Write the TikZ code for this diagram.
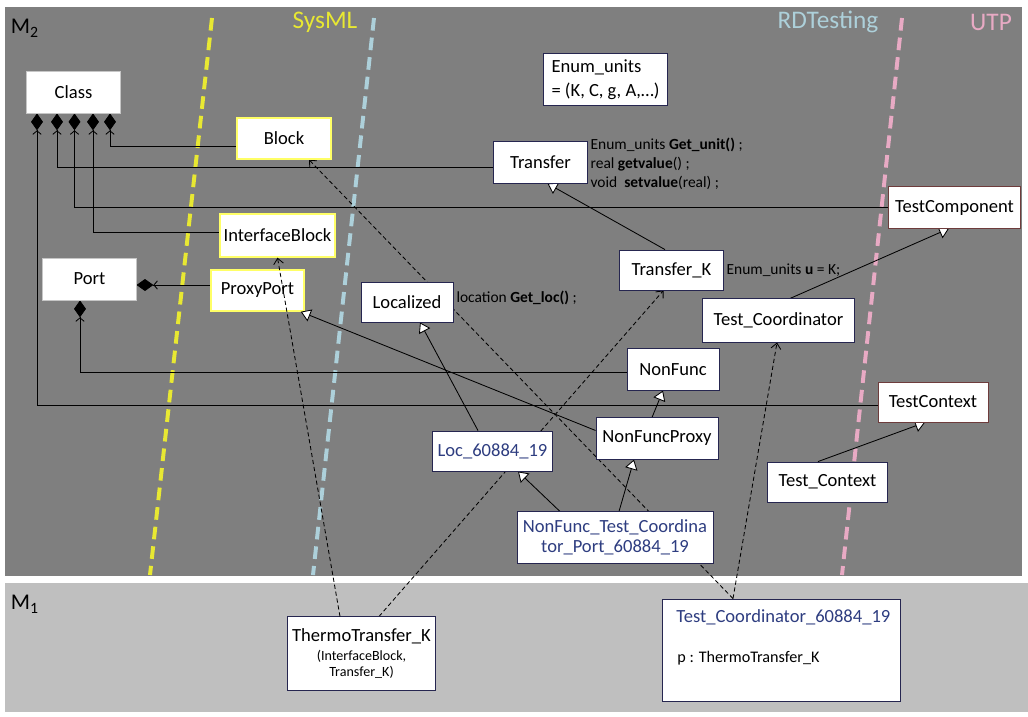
\documentclass[tikz,border=0pt]{standalone}
\usepackage{fontspec}
\setmainfont{Carlito}
\usepackage{tikz}
\usetikzlibrary{positioning, arrows.meta, calc}
\definecolor{m2_fill}{HTML}{7F7F7F}
\definecolor{m1_fill}{HTML}{BFBFBF}
\definecolor{sysml_col}{HTML}{E8E832}
\definecolor{rdt_col}{HTML}{ADD0DA}
\definecolor{utp_col}{HTML}{E8AAC4}
\definecolor{sysml_edge}{HTML}{FFFF66}
\definecolor{inst_txt}{HTML}{2E3D80}
\definecolor{inst_edge}{HTML}{262650}
\definecolor{utp_edge}{HTML}{6E3C3C}
\newcommand{\opsfont}{\fontsize{11}{13.5}\selectfont}
\newcommand{\subfont}{\fontsize{10}{12}\selectfont}
\pgfdeclarelayer{back}
\pgfdeclarelayer{wires}
\pgfsetlayers{back,wires,main}

\begin{document}
\begin{tikzpicture}[
    x=0.025cm, y=-0.025cm, % 1 unit = 1 pixel of the original slide
    font=\fontsize{13.2}{15}\selectfont,
    box/.style={draw=#1, fill=white, line width=0.6pt, minimum width=2.33cm, minimum height=1.03cm, inner sep=1pt},
    box/.default=inst_edge,
    metabox/.style={box=gray!45},
    sysbox/.style={box=sysml_edge, line width=0.9pt},
    utpbox/.style={box=utp_edge},
    inst/.style={box, text=inst_txt},
    ops/.style={font=\opsfont, align=left, inner sep=2pt},
    region/.style={font=\fontsize{18}{20}\selectfont},
    sep/.style={line width=2.8pt, dash pattern=on 9pt off 5pt},
    comp/.style={{Diamond[length=12pt,width=8.5pt] Straight Barb[length=2.5pt,width=6pt]}-, line width=0.6pt},
    gen/.style={-{Triangle[open, fill=white, length=7pt, width=9pt]}, line width=0.6pt},
    real/.style={-{Straight Barb[length=4pt,width=7pt]}, dash pattern=on 3pt off 2pt, line width=0.6pt}
]

\useasboundingbox (0,0) rectangle (1028,717);

% --- Sfondo: livelli M2 / M1 e confini dei profili ---
\begin{pgfonlayer}{back}
    \fill[white] (0,0) rectangle (1028,717);
    \fill[m2_fill] (5,7) rectangle (1022,576);
    \fill[m1_fill] (5,583) rectangle (1028,712);
    \draw[sep, sysml_col] (212,18) -- (150,575);
    \draw[sep, rdt_col] (374,18) -- (313,575);
    \draw[sep, utp_col] (902,18) -- (842,575);
\end{pgfonlayer}

% --- Etichette ---
\node[font=\fontsize{16}{18}\selectfont, anchor=west] (m2_lbl) at (6,28) {M\textsubscript{2}};
\node[font=\fontsize{16}{18}\selectfont, anchor=west] (m1_lbl) at (6,604) {M\textsubscript{1}};
\node[region, text=sysml_col] (sysml_lbl) at (325,22) {SysML};
\node[region, text=rdt_col] (rdt_lbl) at (828,22) {RDTesting};
\node[region, text=utp_col] (utp_lbl) at (991,22) {UTP};

% --- 1. Metaclassi (UML / SysML) ---
\node[metabox, minimum height=1.05cm] (class) at (73.5,92) {Class};
\node[sysbox, minimum width=2.35cm] (block) at (284,138.5) {Block};
\node[sysbox, minimum width=2.88cm, minimum height=1.08cm] (ifblock) at (277.5,235.5) {InterfaceBlock};
\node[metabox, minimum height=1.05cm] (port) at (89.5,279) {Port};
\node[sysbox] (proxyport) at (257.5,290.5) {ProxyPort};

% --- 2. Profilo RDTesting ---
\node[box, align=left, minimum width=3.08cm, minimum height=1.28cm] (enumunits) at (605.5,79.5) {Enum\_units\\[2pt]= (K, C, g, A,…)};
\node[box] (transfer) at (540.5,162.5) {Transfer};
\node[box, minimum width=2.58cm, minimum height=1cm] (transferk) at (671.5,270) {Transfer\_K};
\node[box, minimum width=2.3cm, minimum height=1cm] (localized) at (407,302) {Localized};
\node[box, minimum width=3.78cm, minimum height=1.08cm] (testcoord) at (778.5,320.5) {Test\_Coordinator};
\node[box, minimum width=2.3cm] (nonfunc) at (673,369.5) {NonFunc};
\node[box, minimum width=3.05cm] (nonfuncproxy) at (657,438.5) {NonFuncProxy};
\node[box, minimum width=2.98cm, minimum height=1cm] (test_context) at (827.5,482) {Test\_Context};

% operazioni accanto alle classi
\node[ops, right=0pt of transfer, yshift=-1pt] (transfer_ops) {Enum\_units \textbf{Get\_unit()} ;\\real \textbf{getvalue}() ;\\void\ \ \textbf{setvalue}(real) ;};
\node[ops, right=0pt of transferk] (transferk_ops) {Enum\_units \textbf{u} = K;};
\node[ops, right=0pt of localized, yshift=3pt] (localized_ops) {location \textbf{Get\_loc()} ;};

% --- 3. Profilo UTP ---
\node[utpbox, minimum width=3.28cm] (testcomp) at (954.5,207.5) {TestComponent};
\node[utpbox, minimum width=2.75cm, minimum height=1cm] (testctx) at (933,402) {TestContext};

% --- 4. Classi della libreria (M2) e istanze (M1) ---
\node[inst, minimum width=2.98cm, minimum height=1cm] (loc) at (492.5,451) {Loc\_60884\_19};
\node[inst, align=center, minimum width=4.9cm, minimum height=1.28cm] (nftcport) at (615,537.5) {NonFunc\_Test\_Coordina\\[-1pt]tor\_Port\_60884\_19};
\node[box, align=center, minimum width=3.68cm, minimum height=1.83cm] (thermo) at (361.5,653.5) {ThermoTransfer\_K\\[-1.5pt]\subfont (InterfaceBlock,\\[-3pt]\subfont Transfer\_K)};
\node[box, minimum width=5.93cm, minimum height=2.55cm] (tcinst) at (781.5,650) {};
\node[text=inst_txt, anchor=west] (tcinst_name) at ($(tcinst.north west)+(9,19)$) {Test\_Coordinator\_60884\_19};
\node[font=\fontsize{11.5}{13}\selectfont, anchor=west] (tcinst_p) at ($(tcinst.north west)+(10,60)$) {p : ThermoTransfer\_K};

% --- Connettori ---
\begin{pgfonlayer}{wires}
    % composizioni da Class
    \draw[comp] ($(class.south)+(36.5,0)$) |- ($(block.west)+(0,7.5)$);
    \draw[comp] ($(class.south)+(-16.5,0)$) |- ($(transfer.west)+(0,4.5)$);
    \draw[comp] ($(class.south)+(1,0)$) |- (testcomp.west);
    \draw[comp] ($(class.south)+(19.5,0)$) |- ($(ifblock.west)+(0,-3.5)$);
    \draw[comp] ($(class.south)+(-36.5,0)$) |- ($(testctx.west)+(0,3)$);
    % composizioni da Port
    \draw[comp] ($(port.south)+(-9.5,0)$) |- ($(nonfunc.west)+(0,2.5)$);
    \draw[comp] ($(port.east)+(0,6)$) -- ($(proxyport.west)+(0,-5.5)$);

    % generalizzazioni
    \draw[gen] ($(transferk.north)+(-6.5,0)$) -- ($(transfer.south)+(7,0)$);
    \draw[gen] ($(testcoord.north)+(11.5,0)$) -- ($(testcomp.south)+(-5.5,0)$);
    \draw[gen] ($(test_context.north)+(-9.5,0)$) -- ($(testctx.south)+(-8,0)$);
    \draw[gen] ($(loc.north)+(-14.5,0)$) -- ($(localized.south)+(13,0)$);
    \draw[gen] ($(nonfuncproxy.north)+(-5,0)$) -- ($(nonfunc.south)+(-10,0)$);
    \draw[gen] ($(nftcport.north)+(-55,0)$) -- ($(loc.south)+(25.5,0)$);
    \draw[gen] ($(nftcport.north)+(4,0)$) -- ($(nonfuncproxy.south)+(-23,0)$);

    % realizzazioni (tratteggiate)
    \draw[real] ($(thermo.north)+(17.5,0)$) -- ($(transferk.south)+(-8,0)$);
    \draw[real] ($(tcinst.north)+(-48.5,0)$) -- ($(block.south)+(25,0)$);
    \draw[real] ($(tcinst.north)+(-48.5,0)$) -- ($(testcoord.south)+(-1.5,0)$);
\end{pgfonlayer}

% sopra ProxyPort
\draw[gen] ($(nonfuncproxy.west)+(0,-8)$) -- ($(proxyport.south east)+(-4,0)$);
\draw[real] ($(thermo.north)+(-21.5,0)$) -- (ifblock.south);

\end{tikzpicture}
\end{document}
